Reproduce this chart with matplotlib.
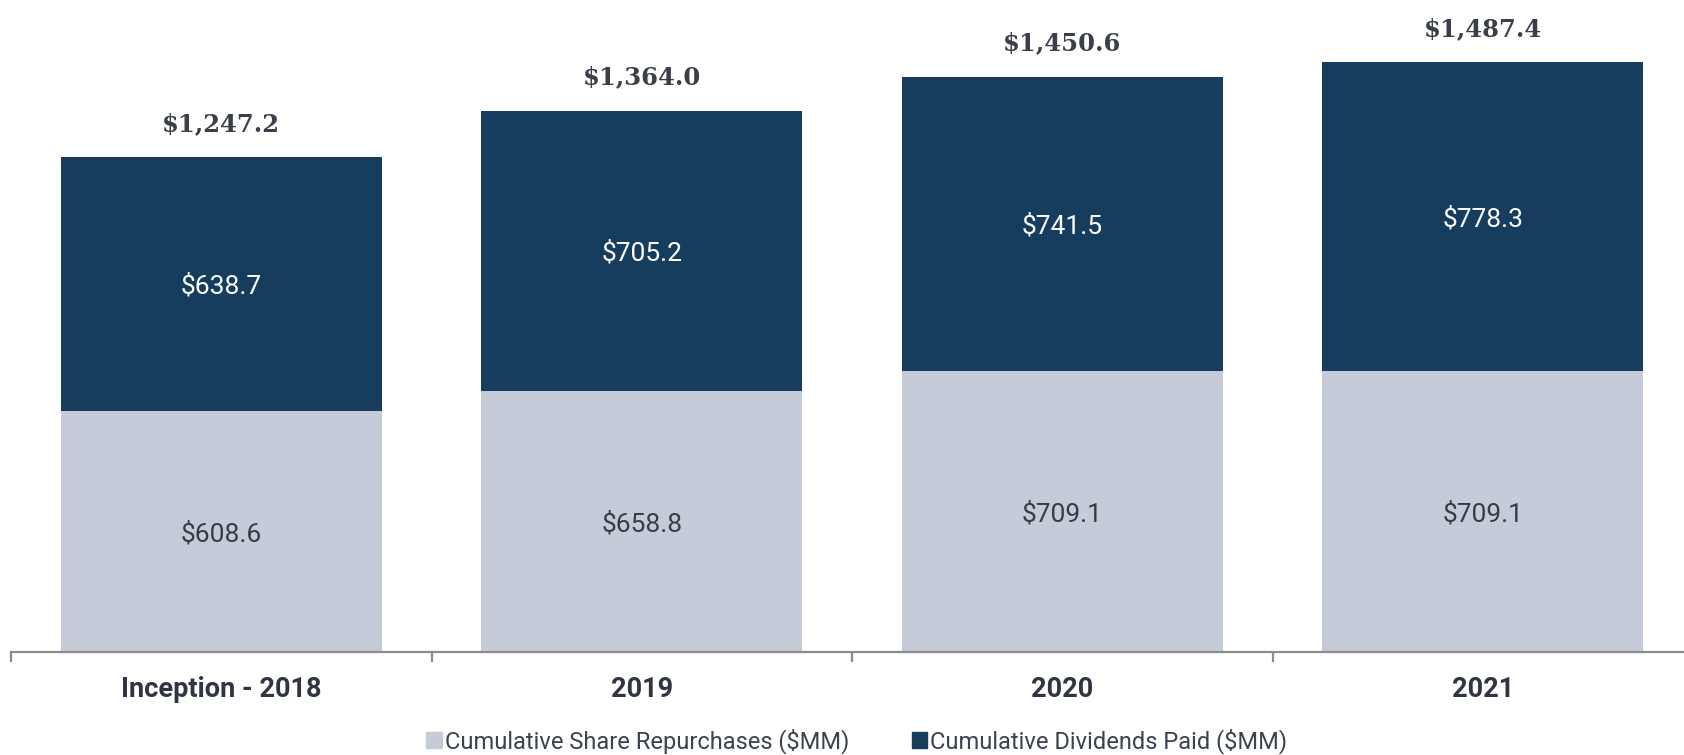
import matplotlib

matplotlib.use("Agg")

import matplotlib.pyplot as plt
import numpy as np
from matplotlib.patches import Patch

categories = ["Inception - 2018", "2019", "2020", "2021"]
repurchases = [608.6, 658.8, 709.1, 709.1]
dividends = [638.7, 705.2, 741.5, 778.3]
totals = [1247.2, 1364.0, 1450.6, 1487.4]

light = "#c5cbd8"
navy = "#173d5e"
text_dark = "#363c48"

plt.rcParams["font.family"] = ["Roboto", "DejaVu Sans"]

fig = plt.figure(figsize=(16.84, 7.55), dpi=100)
ax = fig.add_axes([11 / 1684, 103 / 755, 1682 / 1684, 652 / 755])

x = np.arange(len(categories))
width = 0.763
ax.bar(x, repurchases, width, color=light, label="Cumulative Share Repurchases ($MM)")
ax.bar(x, dividends, width, bottom=repurchases, color=navy, label="Cumulative Dividends Paid ($MM)")

for i in range(len(categories)):
    ax.text(x[i], repurchases[i] / 2, f"${repurchases[i]:,.1f}", ha="center", va="center_baseline",
            fontsize=19, color=text_dark)
    ax.text(x[i], repurchases[i] + dividends[i] / 2, f"${dividends[i]:,.1f}", ha="center",
            va="center_baseline", fontsize=19, color="white")
    ax.annotate(f"${totals[i]:,.1f}", (x[i], repurchases[i] + dividends[i]), xytext=(0, 19),
                textcoords="offset points", ha="center", va="baseline", fontsize=17.5,
                fontweight="bold", family="DejaVu Serif", color="#3a3f4a")

ax.set_xlim(-0.5, 3.5)
ax.set_ylim(0, 1644)
ax.set_yticks([])
for side in ("top", "left", "right"):
    ax.spines[side].set_visible(False)
ax.spines["bottom"].set_color("#8c8c8c")
ax.spines["bottom"].set_linewidth(1.6)

ax.set_xticks(x)
ax.set_xticklabels(categories, fontsize=19.5, fontweight="bold", color="#2f3542")
ax.set_xticks([-0.5, 0.5, 1.5, 2.5, 3.5], minor=True)
ax.tick_params(axis="x", which="major", length=0, pad=17)
ax.tick_params(axis="x", which="minor", length=7, width=1.6, color="#8c8c8c")

handles = [Patch(color=light), Patch(color=navy)]
labels = ["Cumulative Share Repurchases ($MM)", "Cumulative Dividends Paid ($MM)"]
leg = fig.legend(handles, labels, loc="center", bbox_to_anchor=(0.5087, 0.018), ncol=2,
                 frameon=False, fontsize=17, handlelength=0.65, handleheight=0.65,
                 handletextpad=0.12, columnspacing=2.65, borderpad=0, borderaxespad=0)
for t in leg.get_texts():
    t.set_color("#3b4250")

fig.savefig("out.png", dpi=100)
